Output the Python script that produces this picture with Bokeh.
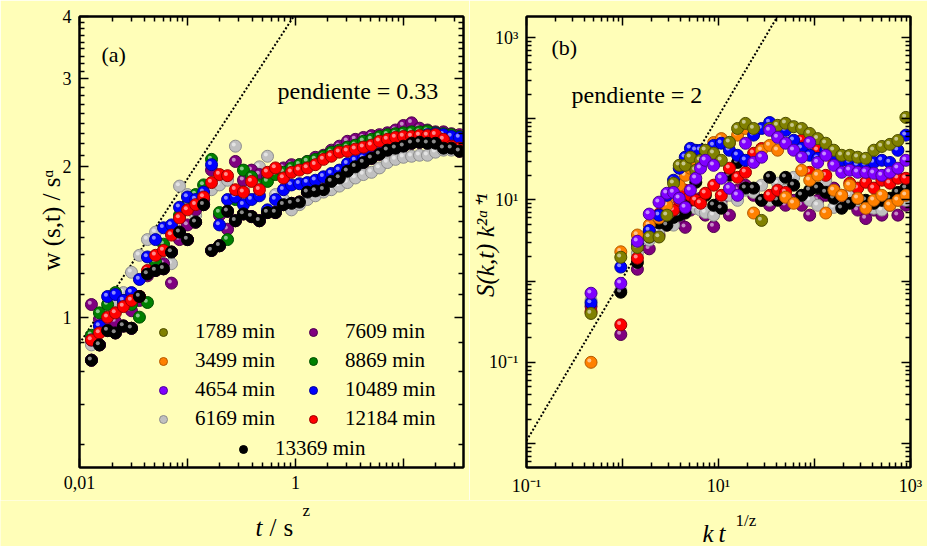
import numpy as np
from bokeh.plotting import figure
from bokeh.models import LogAxis, FixedTicker, Label, Legend, LegendItem
from bokeh.layouts import row, column
from bokeh.embed import file_html
from bokeh.resources import INLINE

# ---------------- data ----------------
series_labels = ["1789 min", "3499 min", "4654 min", "6169 min", "7609 min",
                 "8869 min", "10489 min", "12184 min", "13369 min"]
series_colors = ["#808000", "#FF8000", "#8000FF", "#C0C0C0", "#800080",
                 "#008000", "#0000FF", "#FF0000", "#000000"]
edge_colors = ["#4d4d00", "#b35900", "#4d0099", "#8c8c8c", "#4d004d",
               "#004d00", "#000099", "#990000", "#000000"]

# panel (a): t / s^z  vs  w(s,t) / s^alpha
t_over_sz = [0.0129, 0.0153, 0.0182, 0.0215, 0.0255, 0.0303, 0.0359, 0.0426, 0.0506, 0.0600,
             0.0711, 0.0844, 0.100, 0.119, 0.141, 0.167, 0.198, 0.235, 0.278, 0.330,
             0.392, 0.464, 0.551, 0.653, 0.775, 0.919, 1.09, 1.29, 1.53, 1.82,
             2.15, 2.55, 3.03, 3.59, 4.26, 5.06, 6.00, 7.11, 8.44, 10.0,
             11.9, 14.1, 16.7, 19.8, 23.5, 27.8, 33.0]
# the three earliest series are hidden underneath the later ones in panel (a)
w_1789 = [0.82, 0.88, 0.94, 0.93, 0.96, 0.95, 1.10, 1.22, 1.24, 1.25,
          1.35, 1.48, 1.43, 1.55, 1.68, 1.36, 1.39, 1.63, 1.56, 1.61,
          1.59, 1.56, 1.62, 1.62, 1.68, 1.69, 1.70, 1.78, 1.79, 1.80,
          1.87, 1.90, 1.96, 2.00, 2.04, 2.08, 2.12, 2.16, 2.18, 2.20,
          2.23, 2.24, 2.23, 2.23, 2.18, 2.18, 2.15]
w_3499 = [0.82, 0.88, 0.94, 0.93, 0.96, 0.95, 1.10, 1.22, 1.24, 1.25,
          1.35, 1.48, 1.43, 1.55, 1.68, 1.36, 1.39, 1.63, 1.56, 1.61,
          1.59, 1.56, 1.62, 1.62, 1.68, 1.69, 1.70, 1.78, 1.79, 1.80,
          1.87, 1.90, 1.96, 2.00, 2.04, 2.08, 2.12, 2.16, 2.18, 2.20,
          2.23, 2.24, 2.23, 2.23, 2.18, 2.18, 2.15]
w_4654 = [0.82, 0.88, 0.94, 0.93, 0.96, 0.95, 1.10, 1.22, 1.24, 1.25,
          1.35, 1.48, 1.43, 1.55, 1.68, 1.36, 1.39, 1.63, 1.56, 1.61,
          1.59, 1.56, 1.62, 1.62, 1.68, 1.69, 1.70, 1.78, 1.79, 1.80,
          1.87, 1.90, 1.96, 2.00, 2.04, 2.08, 2.12, 2.16, 2.18, 2.20,
          2.23, 2.24, 2.23, 2.23, 2.18, 2.18, 2.15]
w_6169 = [0.88, 0.94, 0.99, 1.08, 1.12, 1.23, 1.33, 1.43, 1.48, 1.36,
          1.28, 1.83, 1.76, 1.60, 1.72, 1.80, 1.84, 1.88, 2.20, 1.80,
          1.93, 2.00, 2.10, 1.76, 1.72, 1.64, 1.68, 1.72, 1.75, 1.78,
          1.80, 1.83, 1.86, 1.90, 1.93, 1.95, 1.99, 2.04, 2.07, 2.09,
          2.10, 2.11, 2.11, 2.14, 2.16, 2.16, 2.18]
w_7609 = [1.06, 0.99, 0.99, 0.98, 1.06, 1.03, 1.08, 1.21, 1.29, 1.28,
          1.17, 1.43, 1.53, 1.64, 1.72, 1.97, 1.60, 1.50, 2.05, 1.88,
          1.97, 1.93, 1.91, 1.95, 1.99, 2.02, 2.02, 2.05, 2.09, 2.11,
          2.16, 2.20, 2.25, 2.27, 2.29, 2.31, 2.32, 2.34, 2.37, 2.42,
          2.45, 2.39, 2.37, 2.35, 2.35, 2.33, 2.32]
w_8869 = [0.92, 1.02, 1.06, 1.12, 1.08, 1.06, 1.00, 1.07, 1.29, 1.40,
          1.50, 1.60, 1.68, 1.76, 1.84, 2.07, 1.62, 1.43, 1.72, 1.97,
          1.91, 1.84, 1.87, 1.93, 1.95, 1.99, 2.02, 2.05, 2.07, 2.10,
          2.14, 2.16, 2.19, 2.21, 2.25, 2.27, 2.30, 2.32, 2.33, 2.34,
          2.35, 2.35, 2.36, 2.34, 2.33, 2.32, 2.30]
w_10489 = [0.90, 0.96, 1.10, 1.11, 1.08, 1.12, 1.19, 1.32, 1.43, 1.51,
           1.53, 1.66, 1.74, 1.72, 1.78, 2.02, 1.53, 1.72, 1.74, 1.68,
           1.72, 1.75, 1.64, 1.72, 1.80, 1.84, 1.85, 1.86, 1.88, 1.91,
           1.94, 1.97, 2.03, 2.06, 2.08, 2.10, 2.15, 2.17, 2.19, 2.22,
           2.27, 2.30, 2.32, 2.33, 2.32, 2.30, 2.29]
w_12184 = [0.90, 0.93, 1.00, 1.02, 1.05, 1.08, 1.10, 1.24, 1.33, 1.36,
           1.46, 1.58, 1.64, 1.68, 1.74, 1.86, 1.93, 1.92, 1.80, 1.78,
           1.87, 1.80, 1.95, 1.99, 1.90, 1.95, 1.97, 1.99, 2.02, 2.07,
           2.10, 2.14, 2.15, 2.17, 2.19, 2.21, 2.25, 2.27, 2.29, 2.30,
           2.30, 2.31, 2.31, 2.32, 2.27, 2.20, 2.18]
w_13369 = [0.82, 0.88, 0.94, 0.93, 0.96, 0.95, 1.10, 1.22, 1.24, 1.25,
           1.35, 1.48, 1.43, 1.55, 1.68, 1.36, 1.39, 1.63, 1.56, 1.61,
           1.59, 1.56, 1.62, 1.62, 1.68, 1.69, 1.70, 1.78, 1.79, 1.80,
           1.87, 1.90, 1.96, 2.00, 2.04, 2.08, 2.12, 2.16, 2.18, 2.20,
           2.23, 2.24, 2.23, 2.23, 2.18, 2.18, 2.15]
guide_a_x = [0.01, 1.0]
guide_a_y = [0.885, 4.05]

# panel (b): k t^(1/z)  vs  S(k,t) k^(2alpha+1)
k_t1z = [0.47, 0.96, 1.43, 1.9, 2.4, 2.9, 3.4, 3.9, 4.5, 5.1,
         5.8, 6.5, 7.3, 8.9, 10.7, 13.0, 15.8, 19.1, 23.2, 28.1,
         34.1, 41.3, 50.0, 60.7, 73.5, 89.1, 108, 131, 159, 192,
         233, 282, 342, 415, 503, 610, 739, 895]
S_1789 = [0.40, 1.97, 2.6, 3.5, 3.5, 6.5, 16.1, 26.7, 26.7, 33.6,
          23.2, 30.8, 40.9, 37.6, 30.8, 51.3, 76, 87.7, 76, 5.6,
          76, 83, 88, 80, 76, 66, 57, 50, 41, 35.5,
          35.5, 33.6, 32.6, 41, 45.6, 48.4, 54, 104]
S_3499 = [0.10, 2.3, 3.7, 4.9, 6.0, 8.6, 11.4, 15.2, 20.1, 24.6,
          30.8, 35.5, 40.9, 51, 57, 50, 62.9, 76, 6.9, 41,
          47, 41, 10.8, 9.1, 23.2, 17.5, 20.1, 6.9, 13.2, 11.4,
          15.2, 10.5, 7.9, 9.9, 11.4, 8.6, 9.9, 11.4]
S_4654 = [0.71, 0.94, 3.1, 6.7, 9.4, 12.1, 12.4, 10.5, 8.1, 13.2,
          18.5, 24.6, 30.8, 26.7, 18.5, 13.9, 11.4, 49.9, 29, 33.6,
          72, 59, 50, 41, 33.6, 51, 29, 35.5, 26.7, 21.9,
          23.2, 21.9, 21.9, 21.3, 20.1, 21.9, 24.6, 30.8]
S_6169 = [0.58, 0.77, 2.2, 3.2, 4.2, 6.0, 4.9, 6.5, 7.0, 8.6,
          7.9, 7.5, 7.0, 6.5, 8.6, 11.4, 9.9, 13.2, 12.4, 15.2,
          9.9, 16.1, 13.2, 19, 11.4, 9.9, 8.6, 17.5, 8.1, 8.6,
          11.4, 9.9, 8.6, 7.9, 7.5, 8.6, 9.9, 9.9]
S_7609 = [0.49, 0.22, 1.4, 2.5, 3.7, 4.9, 6.5, 5.3, 4.6, 7.5,
          8.6, 10.5, 6.5, 4.7, 9.9, 6.5, 13.2, 15.2, 11.4, 9.9,
          8.6, 11.4, 8.6, 9.9, 8.6, 6.5, 9.9, 11.4, 14, 8.6,
          9.9, 7.5, 5.9, 7.5, 6.5, 8.6, 6.5, 8.6]
S_10489 = [0.54, 1.49, 2.8, 4.2, 6.5, 11.4, 17.5, 24.6, 33.6, 43.3,
           40.9, 40.9, 38.6, 47, 50, 40.9, 35.5, 30.8, 62.9, 76,
           90, 62.9, 72, 54.4, 43.3, 35.5, 32.6, 40.9, 35.5, 30.8,
           29, 26.7, 26.7, 29, 30.8, 29, 40.9, 62.9]
S_12184 = [0.42, 0.29, 1.92, 4.12, 6.7, 8.6, 7.5, 9.9, 13.2, 11.4,
           9.9, 9.1, 12.1, 15.2, 11.4, 24.6, 19, 21.9, 37.6, 43,
           11.4, 13.2, 12.4, 50, 54.4, 21.9, 41, 20.1, 28.2, 11.4,
           16.1, 14, 16.5, 14, 17.5, 16.1, 18.5, 18.5]
S_13369 = [np.nan, 0.73, 1.7, 3.5, 5.2, 4.9, 6.1, 6.5, 6.9, 9.9,
           16.5, 9.9, 11.4, 8.6, 7.9, 20.1, 29, 14, 14, 9.9,
           19, 9.9, 19, 15.2, 11.4, 13.2, 14, 12.4, 10.5, 7.9,
           9.1, 10.5, 9.9, 9.1, 9.9, 10.5, 12.4, 14]
guide_b_x = [0.1, 45.0]
guide_b_y = [0.0108, 2187.0]

# ---------------- styling ----------------
SERIF = "Liberation Serif"
BG = "#FFFEB8"
MSIZE = 12
NB = "\u00a0"


def make_fig(xr, yr, min_left, min_right):
    p = figure(x_axis_type="log", y_axis_type="log", x_range=xr, y_range=yr,
               frame_width=384, frame_height=451,
               min_border_left=min_left, min_border_right=min_right,
               min_border_top=16, min_border_bottom=33,
               output_backend="svg", toolbar_location=None,
               background_fill_color=BG, border_fill_color=BG)
    p.grid.visible = False
    p.outline_line_color = "black"
    p.outline_line_width = 2
    return p


def style_axis(ax, ticker, overrides):
    ax.ticker = ticker
    ax.major_label_overrides = overrides
    ax.axis_line_width = 2
    ax.axis_line_color = "black"
    ax.major_tick_in = 9
    ax.major_tick_out = 0
    ax.minor_tick_in = 5
    ax.minor_tick_out = 0
    ax.major_tick_line_width = 1.5
    ax.minor_tick_line_width = 1.5
    ax.major_label_text_font = SERIF
    ax.major_label_text_font_size = "18px"
    ax.major_label_text_color = "black"
    ax.major_label_standoff = 8


def dress(p, xt, xlab, yt, ylab):
    style_axis(p.below[0], xt, xlab)
    style_axis(p.left[0], yt, ylab)
    top = LogAxis()
    right = LogAxis()
    p.add_layout(top, "above")
    p.add_layout(right, "right")
    style_axis(top, xt, {t: "" for t in xt.ticks})
    style_axis(right, yt, {t: "" for t in yt.ticks})
    top.major_label_standoff = 0
    right.major_label_standoff = 0


def txt(p, x, y, s, size, italic=False):
    p.add_layout(Label(x=x, y=y, x_units="screen", y_units="screen", text=s,
                       text_font=SERIF, text_font_size=f"{size}px",
                       text_font_style="italic" if italic else "normal",
                       text_align="left", text_baseline="alphabetic",
                       text_color="black"))


def decade_minors(lo_exp, hi_exp):
    out = []
    for e in range(lo_exp, hi_exp + 1):
        out += [k * 10.0 ** e for k in range(2, 10)]
    return out


def balls(p, xs, ys, i, fx, fy):
    xs = np.array(xs, dtype=float)
    ys = np.array(ys, dtype=float)
    r = p.scatter(xs, ys, size=MSIZE, fill_color=series_colors[i],
                  line_color=edge_colors[i], line_width=1)
    # small specular spot (a styling detail of the reference's shaded balls)
    p.scatter(xs * fx, ys * fy, size=4, fill_color="white", fill_alpha=0.55, line_color=None)
    return r


# ---------------- panel (a) ----------------
pa = make_fig((0.01, 36.0), (0.5, 4.0), 79, 6)
xt_a = FixedTicker(ticks=[0.01, 0.1, 1.0, 10.0], minor_ticks=decade_minors(-2, 1))
yt_a = FixedTicker(ticks=[1.0, 2.0, 3.0, 4.0],
                   minor_ticks=[0.556, 0.667, 0.778, 0.889] +
                   [b + k / 9 for b in (1, 2, 3) for k in range(1, 9)])
dress(pa, xt_a, {0.01: "0,01", 0.1: "", 1.0: "1", 10.0: ""},
      yt_a, {1.0: "1", 2.0: "2", 3.0: "3", 4.0: "4"})
ya = pa.left[0]
ya.axis_label = NB * 7 + "w (s,t) / s\u1d45"
ya.axis_label_text_font = SERIF
ya.axis_label_text_font_size = "25px"
ya.axis_label_text_font_style = "normal"
ya.axis_label_text_color = "black"
ya.axis_label_standoff = -5

pa.line(guide_a_x, guide_a_y, line_color="black", line_width=2, line_dash="2 2")

a_series = [w_1789, w_3499, w_4654, w_6169, w_7609, w_8869, w_10489, w_12184, w_13369]
renderers_a = {}
for i, ys in enumerate(a_series):
    renderers_a[series_labels[i]] = balls(pa, t_over_sz, ys, i, 0.965, 1.008)

txt(pa, 22, 413, "(a)", 22)
txt(pa, 198, 377, "pendiente = 0.33", 24)


def legend_block(p, labs, loc):
    items = [LegendItem(label=l, renderers=[renderers_a[l]]) for l in labs]
    lg = Legend(items=items, location=loc, orientation="vertical", padding=0, margin=0,
                spacing=4, glyph_width=20, glyph_height=20, label_height=20,
                label_standoff=22, label_text_font=SERIF, label_text_font_size="21px",
                label_text_color="black", label_text_baseline="middle",
                background_fill_alpha=0, border_line_alpha=0)
    p.add_layout(lg)


legend_block(pa, series_labels[0:4], (74, 36))
legend_block(pa, series_labels[4:8], (224, 36))
legend_block(pa, series_labels[8:9], (154, 6))

# ---------------- panel (b) ----------------
pb = make_fig((0.1, 1000.0), (0.00506, 1820.0), 56, 18)
xt_b = FixedTicker(ticks=[0.1, 1.0, 10.0, 100.0, 1000.0], minor_ticks=decade_minors(-1, 2))
yt_b = FixedTicker(ticks=[0.01, 0.1, 1.0, 10.0, 100.0, 1000.0], minor_ticks=decade_minors(-3, 3))
dress(pb, xt_b, {0.1: "10\u207b\u00b9", 1.0: "", 10.0: "10\u00b9", 100.0: "", 1000.0: "10\u00b3"},
      yt_b, {0.01: "", 0.1: "10\u207b\u00b9", 1.0: "", 10.0: "10\u00b9", 100.0: "", 1000.0: "10\u00b3"})
yb = pb.left[0]
yb.axis_label = "S(k,t)  k\u00b2\u1d45\u207a\u00b9"
yb.axis_label_text_font = SERIF
yb.axis_label_text_font_size = "25px"
yb.axis_label_text_font_style = "italic"
yb.axis_label_text_color = "black"
yb.axis_label_standoff = -13

pb.line(guide_b_x, guide_b_y, line_color="black", line_width=2, line_dash="2 2")

b_order = [(4, S_7609), (3, S_6169), (8, S_13369), (7, S_12184), (1, S_3499),
           (6, S_10489), (0, S_1789), (2, S_4654)]
for i, ys in b_order:
    balls(pb, k_t1z, ys, i, 0.96, 1.05)

txt(pb, 25, 420, "(b)", 22)
txt(pb, 45, 373, "pendiente = 2", 24)

# ---------------- x-axis titles strip ----------------
strip = figure(width=927, height=46, x_range=(0, 927), y_range=(0, 46),
               min_border=0, x_axis_location=None, y_axis_location=None,
               output_backend="svg", toolbar_location=None,
               background_fill_color=BG, border_fill_color=BG, outline_line_color=None)
strip.grid.visible = False
txt(strip, 255, 19, "t", 25, True)
txt(strip, 269, 19, "/", 25)
txt(strip, 283, 19, "s", 25)
txt(strip, 302, 36, "z", 17)
txt(strip, 702, 13, "k", 25, True)
txt(strip, 718, 13, "t", 25, True)
txt(strip, 735, 26, "1/z", 17)

layout = column(row(pa, pb), strip)
open("out.html", "w").write(file_html(layout, INLINE))
